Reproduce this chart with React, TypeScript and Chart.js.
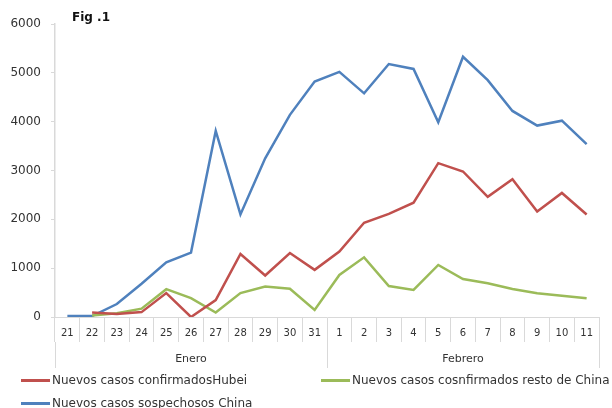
import React, { useEffect, useRef } from "react";
import { Chart, registerables } from "chart.js";

Chart.register(...registerables);

const dayLabels = ["21", "22", "23", "24", "25", "26", "27", "28", "29", "30", "31", "1", "2", "3", "4", "5", "6", "7", "8", "9", "10", "11"];
const monthLabels = ["Enero", "Febrero"];
const hubei: (number | null)[] = [null, 90, 60, 100, 490, 0, 345, 1290, 850, 1310, 965, 1340, 1930, 2110, 2340, 3150, 2980, 2460, 2820, 2160, 2540, 2100];
const restoChina: (number | null)[] = [null, 30, 75, 170, 570, 385, 90, 490, 625, 578, 143, 860, 1222, 635, 553, 1065, 778, 690, 573, 485, 437, 382];
const sospechosos: (number | null)[] = [20, 20, 265, 680, 1120, 1320, 3810, 2100, 3250, 4140, 4820, 5020, 4580, 5180, 5080, 3990, 5330, 4850, 4220, 3920, 4020, 3540];
const seriesNames = ["Nuevos casos confirmadosHubei", "Nuevos casos cosnfirmados resto de China", "Nuevos casos sospechosos China"];
const seriesColors = ["#c0504d", "#9bbb59", "#4f81bd"];

const FONT = "'DejaVu Sans', sans-serif";
const TEXT = "#333333";
const AXIS = "#d9d9d9";

export default function App() {
  const ref = useRef<HTMLCanvasElement | null>(null);
  useEffect(() => {
    if (!ref.current) return;
    const chart = new Chart(ref.current, {
      type: "line",
      data: {
        labels: dayLabels,
        datasets: [
          { label: seriesNames[0], data: hubei, borderColor: seriesColors[0], backgroundColor: seriesColors[0], borderWidth: 2.5, pointRadius: 0, tension: 0, xAxisID: "x" },
          { label: seriesNames[1], data: restoChina, borderColor: seriesColors[1], backgroundColor: seriesColors[1], borderWidth: 2.5, pointRadius: 0, tension: 0, xAxisID: "x" },
          { label: seriesNames[2], data: sospechosos, borderColor: seriesColors[2], backgroundColor: seriesColors[2], borderWidth: 2.5, pointRadius: 0, tension: 0, xAxisID: "x" },
        ],
      },
      options: {
        animation: false,
        responsive: false,
        events: [],
        layout: { padding: { left: 0, right: 13, top: 24, bottom: 40 } },
        plugins: { legend: { display: false }, title: { display: false }, tooltip: { enabled: false } },
        scales: {
          x: {
            type: "category",
            position: "bottom",
            weight: 0,
            offset: true,
            grid: { offset: true, drawOnChartArea: false, tickLength: 25, color: AXIS, lineWidth: 1 },
            border: { display: true, color: AXIS, width: 1 },
            ticks: { padding: -15, color: TEXT, font: { family: FONT, size: 10 }, maxRotation: 0, autoSkip: false },
            afterFit: (s: any) => { s.height = 25; },
          },
          x2: {
            type: "category",
            position: "bottom",
            weight: 1,
            labels: monthLabels,
            offset: true,
            grid: { offset: true, drawOnChartArea: false, tickLength: 26, color: AXIS, lineWidth: 1 },
            border: { display: false },
            ticks: { padding: -15, color: TEXT, font: { family: FONT, size: 11 }, maxRotation: 0, autoSkip: false },
            afterFit: (s: any) => { s.height = 26; },
          },
          y: {
            min: 0,
            max: 6000,
            ticks: { stepSize: 1000, padding: 10, color: TEXT, font: { family: FONT, size: 12 }, callback: (v: any) => String(v) },
            grid: { drawOnChartArea: false, tickLength: 4, color: AXIS },
            border: { display: true, color: AXIS, width: 1.5 },
            afterFit: (s: any) => { s.width = 55; },
          },
        },
      },
    });
    return () => chart.destroy();
  }, []);

  const legendText: React.CSSProperties = { position: "absolute", fontFamily: FONT, fontSize: 12, color: TEXT, whiteSpace: "nowrap", lineHeight: "14px" };
  const swatch = (left: number, top: number, color: string): React.CSSProperties => ({ position: "absolute", left, top, width: 29, height: 2.5, background: color });

  return (
    <div style={{ position: "absolute", left: 0, top: 0, width: 612, height: 408, background: "#fff", overflow: "hidden" }}>
      <canvas ref={ref} width={612} height={408} style={{ position: "absolute", left: 0, top: 0 }} />
      <div style={{ position: "absolute", left: 72, top: 10, fontFamily: FONT, fontWeight: "bold", fontSize: 12, color: "#111", whiteSpace: "nowrap" }}>Fig .1</div>
      <div style={swatch(21, 379, seriesColors[0])} />
      <div style={{ ...legendText, left: 52, top: 373 }}>{seriesNames[0]}</div>
      <div style={swatch(321, 379, seriesColors[1])} />
      <div style={{ ...legendText, left: 352, top: 373 }}>{seriesNames[1]}</div>
      <div style={swatch(21, 402, seriesColors[2])} />
      <div style={{ ...legendText, left: 52, top: 396 }}>{seriesNames[2]}</div>
    </div>
  );
}
